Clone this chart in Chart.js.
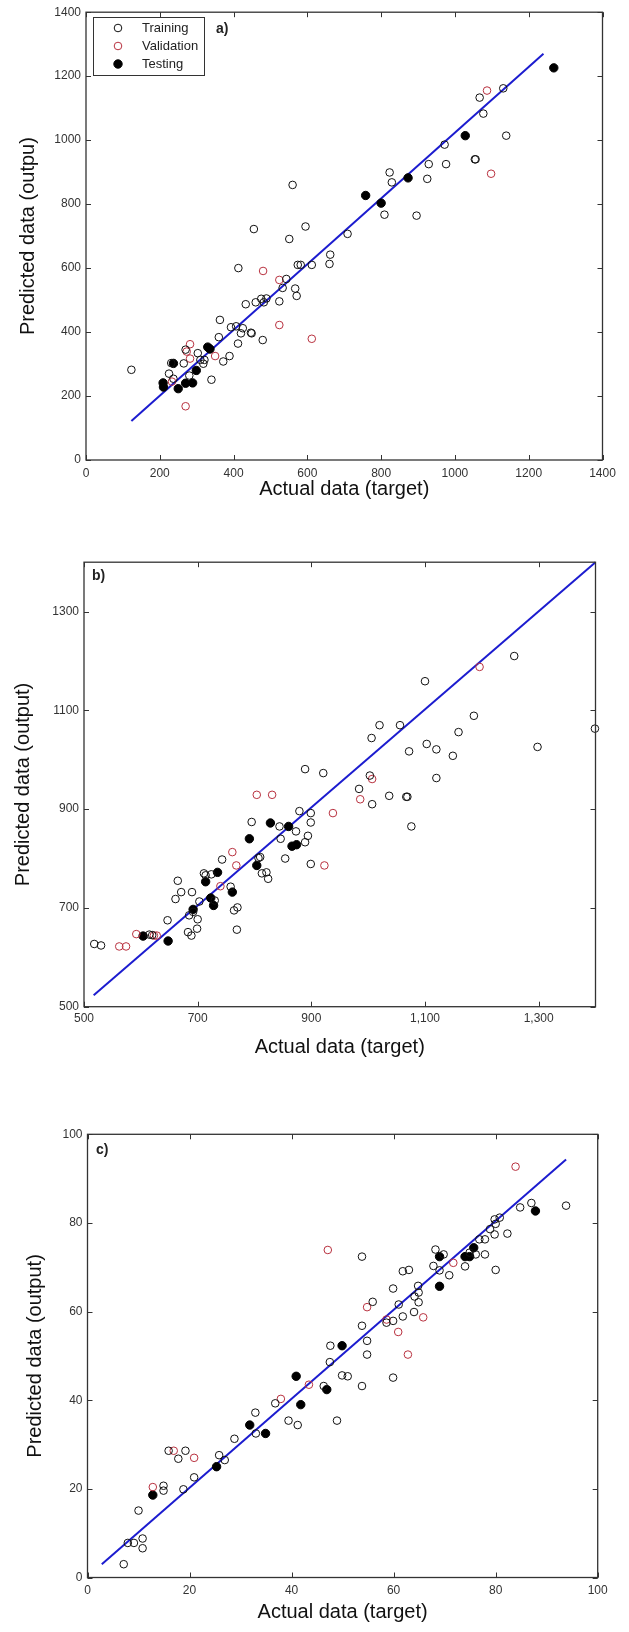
<!DOCTYPE html>
<html>
<head>
<meta charset="utf-8">
<script src="https://cdn.jsdelivr.net/npm/chart.js@4.4.0/dist/chart.umd.min.js"></script>
<style>
body { margin: 0; background: #fff; }
.box { position: absolute; left: 0; width: 629px; }
</style>
</head>
<body>
<div class="box" style="top:0;height:505px"><canvas id="chartA"></canvas></div>
<div class="box" style="top:550px;height:520px"><canvas id="chartB"></canvas></div>
<div class="box" style="top:1120px;height:512px"><canvas id="chartC"></canvas></div>
<script>
// a) panel
const aTrainX = [123,225,231,237,265,270,280,303,310,318,321,340,360,363,372,389,393,407,412,413,420,425,433,447,449,455,460,475,479,482,489,524,533,543,551,560,567,571,574,582,595,612,660,662,709,809,823,829,896,925,929,972,976,1054,1056,1067,1077,1131,1139];
const aTrainY = [282,270,303,254,302,345,264,334,313,301,313,251,384,438,308,325,415,418,364,600,396,412,487,398,396,722,493,504,375,493,505,496,538,566,691,860,536,513,610,610,730,610,613,642,707,767,899,868,764,879,925,986,925,940,940,1133,1083,1162,1014];
const aValX = [233,270,273,282,282,350,480,524,524,612,1087,1098];
const aValY = [245,168,339,362,317,325,591,563,422,379,1155,895];
const aTestX = [209,210,237,250,270,289,299,330,336,758,800,873,1028,1268];
const aTestY = [241,228,302,223,240,241,280,353,347,827,803,882,1014,1226];
const aLineX = [123,1240];
const aLineY = [122,1270];
const aTicks = [0,200,400,600,800,1000,1200,1400];

// b) panel
const bTrainX = [518,530,615,620,647,661,665,671,683,689,685,690,692,699,700,703,711,714,724,730,743,758,764,770,769,795,807,810,813,821,824,844,846,854,873,879,889,889,894,899,899,899,921,984,1003,1006,1007,1020,1037,1056,1067,1069,1072,1076,1100,1103,1120,1120,1149,1159,1186,1257,1298,1399];
const bTrainY = [627,624,646,645,675,718,755,732,651,644,685,732,692,658,677,713,770,766,768,715,798,743,695,701,656,874,801,803,770,772,759,865,840,800,855,896,833,981,846,892,873,789,973,941,968,1044,910,1070,927,1070,925,925,1017,865,1159,1032,1021,963,1008,1056,1089,1210,1026,1063];
const bValX = [562,574,592,623,628,740,761,768,804,831,923,938,986,1007,1196];
const bValY = [622,622,647,644,644,744,813,786,929,929,786,892,920,961,1188];
const bTestX = [604,648,692,714,723,728,735,761,791,804,828,860,866,874];
const bTestY = [643,633,697,753,720,705,772,732,840,786,872,865,825,828];
const bLineX = [517,1400];
const bLineY = [523,1400];
const bTicks = [500,700,900,1100,1300];

// c) panel
const cTrainX = [7.1,7.9,9.1,10.0,10.8,10.8,14.9,14.9,15.9,17.8,18.8,19.2,20.9,25.8,26.9,28.8,32.9,33.0,36.8,39.4,41.2,46.3,47.5,47.6,48.9,49.9,51.0,53.8,53.8,53.8,54.8,54.8,55.9,58.6,59.9,59.9,59.9,61.0,61.8,61.8,63.0,64.0,64.1,64.8,64.9,64.9,67.8,68.2,69.0,69.8,70.9,74.0,74.9,76.1,76.8,77.9,77.9,78.9,79.8,79.8,80.0,80.0,80.8,82.3,84.8,87.0,93.8];
const cTrainY = [3.0,7.8,7.8,15.1,8.8,6.6,20.7,19.6,28.6,26.8,19.9,28.6,22.6,27.6,26.5,31.3,37.2,32.5,39.3,35.4,34.4,43.2,48.6,52.3,35.4,45.6,45.4,56.8,72.4,43.2,53.4,50.3,62.2,57.5,65.2,57.9,45.1,61.6,69.1,58.9,69.4,59.9,63.4,65.8,62.1,64.3,70.3,74.0,69.3,72.9,68.2,70.2,73.3,72.9,76.3,72.9,76.3,78.6,77.4,80.8,69.4,79.8,81.2,77.6,83.5,84.5,83.9];
const cValX = [12.8,16.9,20.9,37.9,43.4,47.1,54.8,58.6,60.9,62.8,65.8,71.7,83.9];
const cValY = [20.4,28.6,27.0,40.3,43.5,73.9,61.0,58.2,55.4,50.3,58.7,71.0,92.7];
const cTestX = [12.8,25.3,31.8,34.9,40.9,41.8,46.9,49.9,69.0,69.0,74.0,74.9,75.7,87.8];
const cTestY = [18.6,25.0,34.4,32.5,45.4,39.0,42.4,52.3,72.4,65.7,72.4,72.4,74.4,82.7];
const cLineX = [2.8,93.8];
const cLineY = [3.0,94.3];
const cTicks = [0,20,40,60,80,100];

const seriesNames = ["Training", "Validation", "Testing"];
const FONT = "Arial, 'Liberation Sans', sans-serif";
const RED = '#b8313f';

function pts(xs, ys) {
    return xs.map((x, i) => ({ x: x, y: ys[i] }));
}

// box, inward ticks, panel tag and legend like the matlab figure
const framePlugin = {
    id: 'frame',
    afterDatasetsDraw(chart, args, opts) {
        let ctx = chart.ctx, a = chart.chartArea;
        let sx = chart.scales.x, sy = chart.scales.y;
        ctx.save();
        ctx.strokeStyle = '#333';
        ctx.lineWidth = 1;
        ctx.beginPath();
        sx.ticks.forEach(t => {
            let p = Math.round(sx.getPixelForValue(t.value)) + 0.5;
            ctx.moveTo(p, a.bottom); ctx.lineTo(p, a.bottom - 5);
            ctx.moveTo(p, a.top); ctx.lineTo(p, a.top + 5);
        });
        sy.ticks.forEach(t => {
            let p = Math.round(sy.getPixelForValue(t.value)) + 0.5;
            ctx.moveTo(a.left, p); ctx.lineTo(a.left + 5, p);
            ctx.moveTo(a.right, p); ctx.lineTo(a.right - 5, p);
        });
        ctx.stroke();
        ctx.lineWidth = 1.3;
        ctx.strokeRect(a.left, a.top, a.right - a.left, a.bottom - a.top);

        ctx.fillStyle = '#222';
        ctx.font = 'bold 14px ' + FONT;
        ctx.textBaseline = 'middle';
        ctx.fillText(opts.tag, opts.tagX, opts.tagY);

        if (opts.legend) {
            let L = opts.legend;
            ctx.fillStyle = '#fff';
            ctx.fillRect(L.x, L.y, L.w, L.h);
            ctx.strokeStyle = '#333';
            ctx.lineWidth = 1;
            ctx.strokeRect(L.x + 0.5, L.y + 0.5, L.w, L.h);
            ctx.font = '13px ' + FONT;
            chart.data.datasets.slice(0, 3).forEach((ds, i) => {
                let cy = L.y + 11 + i * 18;
                ctx.beginPath();
                ctx.arc(L.x + 25, cy, ds.pointRadius, 0, Math.PI * 2);
                ctx.fillStyle = ds.pointBackgroundColor;
                ctx.fill();
                ctx.strokeStyle = ds.pointBorderColor;
                ctx.lineWidth = 1;
                ctx.stroke();
                ctx.fillStyle = '#222';
                ctx.fillText(ds.label, L.x + 49, cy);
            });
        }
        ctx.restore();
    }
};

function makeChart(id, p) {
    let ctx = document.getElementById(id).getContext("2d");
    return new Chart(ctx, {
        type: 'scatter',
        data: {
            datasets: [
                { label: seriesNames[0], data: pts(p.trainX, p.trainY), pointRadius: 3.8, pointBackgroundColor: 'rgba(0,0,0,0)', pointBorderColor: '#111', pointBorderWidth: 1, clip: false },
                { label: seriesNames[1], data: pts(p.valX, p.valY), pointRadius: 3.8, pointBackgroundColor: 'rgba(0,0,0,0)', pointBorderColor: RED, pointBorderWidth: 1, clip: false },
                { label: seriesNames[2], data: pts(p.testX, p.testY), pointRadius: 4.2, pointBackgroundColor: '#000', pointBorderColor: '#000', pointBorderWidth: 1, clip: false },
                { label: 'fit', data: pts(p.lineX, p.lineY), showLine: true, borderColor: '#1c1ccf', borderWidth: 2, pointRadius: 0, clip: false }
            ]
        },
        options: {
            responsive: true,
            maintainAspectRatio: false,
            animation: false,
            layout: { padding: p.pad },
            plugins: {
                legend: { display: false },
                tooltip: { enabled: false },
                frame: { tag: p.tag, tagX: p.tagX, tagY: p.tagY, legend: p.legend }
            },
            scales: {
                x: {
                    type: 'linear',
                    min: p.xMin, max: p.xMax,
                    afterBuildTicks: s => { s.ticks = p.xTicks.map(v => ({ value: v })); },
                    afterFit: s => { s.height = p.xH; },
                    grid: { display: false, drawTicks: false },
                    border: { display: false },
                    ticks: { font: { family: FONT, size: 12 }, color: '#333', padding: p.xTickPad, maxRotation: 0, callback: p.xFmt },
                    title: { display: true, text: "Actual data (target)", font: { family: FONT, size: 20 }, color: '#111', padding: { top: 0, bottom: p.xTitlePad } }
                },
                y: {
                    type: 'linear',
                    min: p.yMin, max: p.yMax,
                    afterBuildTicks: s => { s.ticks = p.yTicks.map(v => ({ value: v })); },
                    afterFit: s => { s.width = p.yW; },
                    grid: { display: false, drawTicks: false },
                    border: { display: false },
                    ticks: { font: { family: FONT, size: 12 }, color: '#333', padding: 5, callback: v => String(v) },
                    title: { display: true, text: p.yTitle, font: { family: FONT, size: 20 }, color: '#111', padding: { top: p.yTitlePad, bottom: 0 } }
                }
            }
        },
        plugins: [framePlugin]
    });
}

makeChart("chartA", {
    trainX: aTrainX, trainY: aTrainY, valX: aValX, valY: aValY, testX: aTestX, testY: aTestY,
    lineX: aLineX, lineY: aLineY,
    xMin: 0, xMax: 1400, yMin: 0, yMax: 1400, xTicks: aTicks, yTicks: aTicks,
    xFmt: v => String(v),
    pad: { top: 10, right: 26.5, left: 0, bottom: 0 },
    yW: 86, xH: 45, xTickPad: 6, xTitlePad: 4, yTitlePad: 16,
    yTitle: "Predicted data (outpu)",
    tag: "a)", tagX: 216, tagY: 29,
    legend: { x: 93, y: 17, w: 111, h: 58 }
});

makeChart("chartB", {
    trainX: bTrainX, trainY: bTrainY, valX: bValX, valY: bValY, testX: bTestX, testY: bTestY,
    lineX: bLineX, lineY: bLineY,
    xMin: 500, xMax: 1400, yMin: 500, yMax: 1400, xTicks: bTicks, yTicks: bTicks,
    xFmt: v => v.toLocaleString('en-US'),
    pad: { top: 10.7, right: 33.5, left: 0, bottom: 0 },
    yW: 84, xH: 63.3, xTickPad: 5, xTitlePad: 11, yTitlePad: 11,
    yTitle: "Predicted data (output)",
    tag: "b)", tagX: 92, tagY: 26,
    legend: null
});

makeChart("chartC", {
    trainX: cTrainX, trainY: cTrainY, valX: cValX, valY: cValY, testX: cTestX, testY: cTestY,
    lineX: cLineX, lineY: cLineY,
    xMin: 0, xMax: 100, yMin: 0, yMax: 100, xTicks: cTicks, yTicks: cTicks,
    xFmt: v => String(v),
    pad: { top: 14.3, right: 31.3, left: 0, bottom: 0 },
    yW: 87.5, xH: 54.5, xTickPad: 5.5, xTitlePad: 8, yTitlePad: 23,
    yTitle: "Predicted data (output)",
    tag: "c)", tagX: 96, tagY: 30,
    legend: null
});
</script>
</body>
</html>
